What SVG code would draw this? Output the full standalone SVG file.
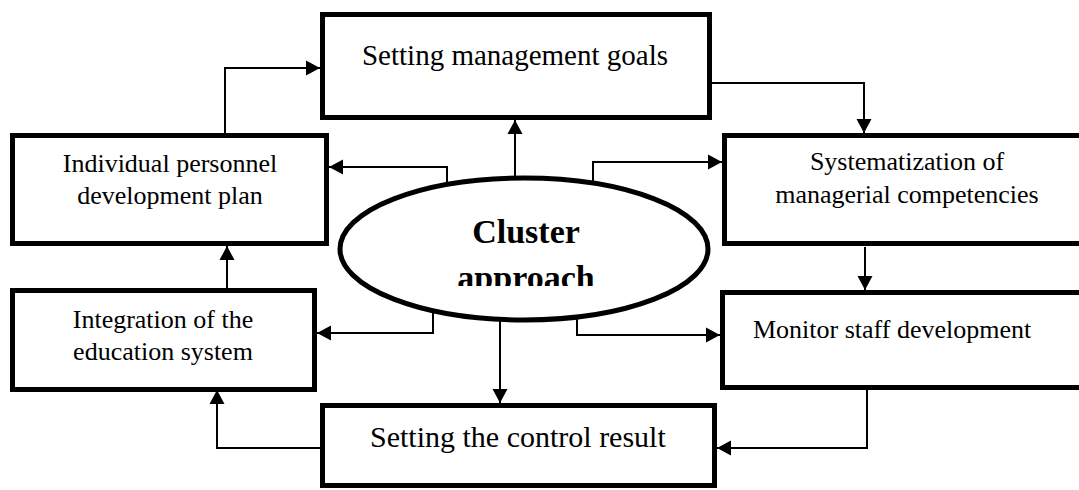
<svg xmlns="http://www.w3.org/2000/svg" width="1079" height="490" viewBox="0 0 1079 490">
<style>
.box{fill:#fff;stroke:#000;stroke-width:5}
.t{font-family:"Liberation Serif","Times New Roman",serif;fill:#000;font-size:26px}
.tb{font-family:"Liberation Serif","Times New Roman",serif;fill:#000;font-size:34px;font-weight:bold}
.c{fill:none;stroke:#000;stroke-width:2}
</style>
<defs>
<marker id="ah" markerUnits="userSpaceOnUse" markerWidth="14" markerHeight="16" viewBox="0 0 14 16" refX="14" refY="8" orient="auto">
<path d="M0,0.5 L14,8 L0,15.5 Z" fill="#000"/>
</marker>
<clipPath id="clipC"><rect x="340" y="190" width="370" height="96"/></clipPath>
</defs>
<rect width="1079" height="490" fill="#fff"/>
<g id="connectors">
<path class="c" d="M225,133 V68 H320" marker-end="url(#ah)"/>
<path class="c" d="M712,83 H864 V133" marker-end="url(#ah)"/>
<path class="c" d="M515,200 V120" marker-end="url(#ah)"/>
<path class="c" d="M447,195 V167 H329" marker-end="url(#ah)"/>
<path class="c" d="M593,195 V162 H722" marker-end="url(#ah)"/>
<path class="c" d="M865,247 V290" marker-end="url(#ah)"/>
<path class="c" d="M577,300 V335 H720" marker-end="url(#ah)"/>
<path class="c" d="M500,300 V403" marker-end="url(#ah)"/>
<path class="c" d="M433,300 V333 H317" marker-end="url(#ah)"/>
<path class="c" d="M867,390 V448 H717" marker-end="url(#ah)"/>
<path class="c" d="M320,448 H217 V390" marker-end="url(#ah)"/>
<path class="c" d="M227,288 V246" marker-end="url(#ah)"/>
</g>
<g id="goals">
<rect class="box" x="322.5" y="14.5" width="387" height="103"/>
<text class="t" x="515" y="65" text-anchor="middle" style="font-size:29px">Setting management goals</text>
</g>
<g id="plan">
<rect class="box" x="12.5" y="135.5" width="314" height="108"/>
<text class="t" x="170" y="172" text-anchor="middle">Individual personnel</text>
<text class="t" x="170" y="204" text-anchor="middle">development plan</text>
</g>
<g id="system">
<rect class="box" x="724.5" y="135.5" width="370" height="108"/>
<text class="t" x="907" y="170" text-anchor="middle">Systematization of</text>
<text class="t" x="907" y="203" text-anchor="middle">managerial competencies</text>
</g>
<g id="monitor">
<rect class="box" x="722.5" y="292.5" width="370" height="95"/>
<text class="t" x="753" y="338">Monitor staff development</text>
</g>
<g id="integration">
<rect class="box" x="12.5" y="290.5" width="302" height="99"/>
<text class="t" x="163" y="328" text-anchor="middle">Integration of the</text>
<text class="t" x="163" y="360" text-anchor="middle">education system</text>
</g>
<g id="control">
<rect class="box" x="322.5" y="405.5" width="392" height="80"/>
<text class="t" x="370" y="447" style="font-size:30px">Setting the control result</text>
</g>
<g id="cluster">
<ellipse class="box" cx="524" cy="249" rx="184" ry="71"/>
<g clip-path="url(#clipC)">
<text class="tb" x="526" y="243" text-anchor="middle">Cluster</text>
<text class="tb" x="526" y="289" text-anchor="middle">approach</text>
</g>
</g>
</svg>
